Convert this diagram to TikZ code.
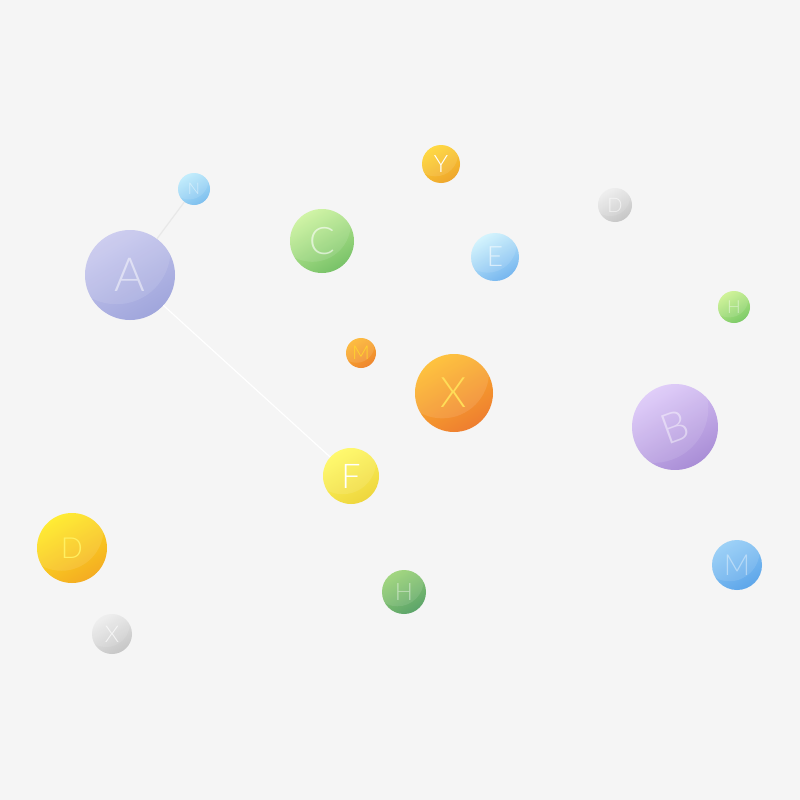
\documentclass[tikz,border=0pt]{standalone}
\usepackage{fontspec}
\usetikzlibrary{calc}
\newfontfamily\bubblefont{Lato Light}

\definecolor{paper}{HTML}{F5F5F5}
\definecolor{aTop}{HTML}{C8C8EE}\definecolor{aBot}{HTML}{A0A6DC}
\definecolor{nTop}{HTML}{BCEBFC}\definecolor{nBot}{HTML}{7EBFEE}
\definecolor{cTop}{HTML}{CBF39C}\definecolor{cBot}{HTML}{78C268}
\definecolor{yTop}{HTML}{FFD52E}\definecolor{yBot}{HTML}{EEA62E}
\definecolor{eTop}{HTML}{CFF3FD}\definecolor{eBot}{HTML}{76B6EF}
\definecolor{mTop}{HTML}{FDB52C}\definecolor{mBot}{HTML}{EE8630}
\definecolor{xTop}{HTML}{FEBC2A}\definecolor{xBot}{HTML}{EE7E30}
\definecolor{fTop}{HTML}{FFF95E}\definecolor{fBot}{HTML}{EED63E}
\definecolor{gTop}{HTML}{EDEDED}\definecolor{gBot}{HTML}{C6C6C6}
\definecolor{hTop}{HTML}{CBF28E}\definecolor{hBot}{HTML}{7CCA68}
\definecolor{bTop}{HTML}{E0CCFB}\definecolor{bBot}{HTML}{A68AD4}
\definecolor{dTop}{HTML}{FFEA1E}\definecolor{dBot}{HTML}{F4AC22}
\definecolor{kTop}{HTML}{98D272}\definecolor{kBot}{HTML}{5CA46A}
\definecolor{wTop}{HTML}{92CCF6}\definecolor{wBot}{HTML}{5EA6EA}

\begin{document}
\begin{tikzpicture}[
    x=1pt,
    y=-1pt,
    bubble/.style n args={3}{
        circle,
        inner sep=0pt,
        minimum size={2*#1pt},
        top color=#2,
        bottom color=#3,
        shading angle=30,
        font=\bubblefont\fontsize{#1}{#1}\selectfont,
        text=white,
        path picture={
            \fill[white,opacity=.1]
                let \p1=(path picture bounding box.center),
                    \p2=(path picture bounding box.east),
                    \n1={\x2-\x1} in
                (\x1-0.3*\n1,\y1+0.55*\n1) circle [radius=1.2*\n1];
        }
    },
    soft/.style={text opacity=#1},
    link/.style={draw=#1, line width=1.2pt},
    ]
    \fill[paper] (0,0) rectangle (800,800);
    \useasboundingbox (0,0) rectangle (800,800);

    % big ones
    \node[bubble={45}{aTop}{aBot}, soft=.5, font=\bubblefont\fontsize{47}{47}\selectfont] (A) at (130,275) {A};
    \node[bubble={43}{bTop}{bBot}, soft=.45, font=\bubblefont\fontsize{42}{42}\selectfont, rotate=20] (B) at (675,427) {B};
    \node[bubble={39}{xTop}{xBot}, text=yTop!80!white, font=\bubblefont\fontsize{42}{42}\selectfont] (X) at (454,393) {X};
    \node[bubble={35}{dTop}{dBot}, text=dTop!70!white, font=\bubblefont\fontsize{29}{29}\selectfont] (D) at (72,548) {D};
    \node[bubble={32}{cTop}{cBot}, soft=.6, font=\bubblefont\fontsize{38}{38}\selectfont] (C) at (322,241) {C};
    \node[bubble={28}{fTop}{fBot}, font=\bubblefont\fontsize{34}{34}\selectfont] (F) at (351,476) {F};

    % small ones
    \node[bubble={25}{wTop}{wBot}, soft=.4, font=\bubblefont\fontsize{29}{29}\selectfont] (M) at (737,565) {M};
    \node[bubble={24}{eTop}{eBot}, soft=.6, font=\bubblefont\fontsize{28}{28}\selectfont] (E) at (495,257) {E};
    \node[bubble={22}{kTop}{kBot}, soft=.45, font=\bubblefont\fontsize{24}{24}\selectfont] (H) at (404,592) {H};
    \node[bubble={20}{gTop}{gBot}, soft=.7, font=\bubblefont\fontsize{23}{23}\selectfont] (Xs) at (112,634) {X};
    \node[bubble={19}{yTop}{yBot}, font=\bubblefont\fontsize{24}{24}\selectfont] (Y) at (441,164) {Y};
    \node[bubble={17}{gTop}{gBot}, soft=.6, font=\bubblefont\fontsize{20}{20}\selectfont] (Ds) at (615,205) {D};
    \node[bubble={16}{hTop}{hBot}, soft=.5, font=\bubblefont\fontsize{18}{18}\selectfont] (Hs) at (734,307) {H};
    \node[bubble={16}{nTop}{nBot}, soft=.5, font=\bubblefont\fontsize{16}{16}\selectfont] (N) at (194,189) {N};
    \node[bubble={15}{mTop}{mBot}, text=yTop, font=\bubblefont\fontsize{19}{19}\selectfont] (Ms) at (361,353) {M};

    % links
    \draw[link=black!9] (N) -- (A);
    \draw[link=white] (A) -- (F);
\end{tikzpicture}
\end{document}
